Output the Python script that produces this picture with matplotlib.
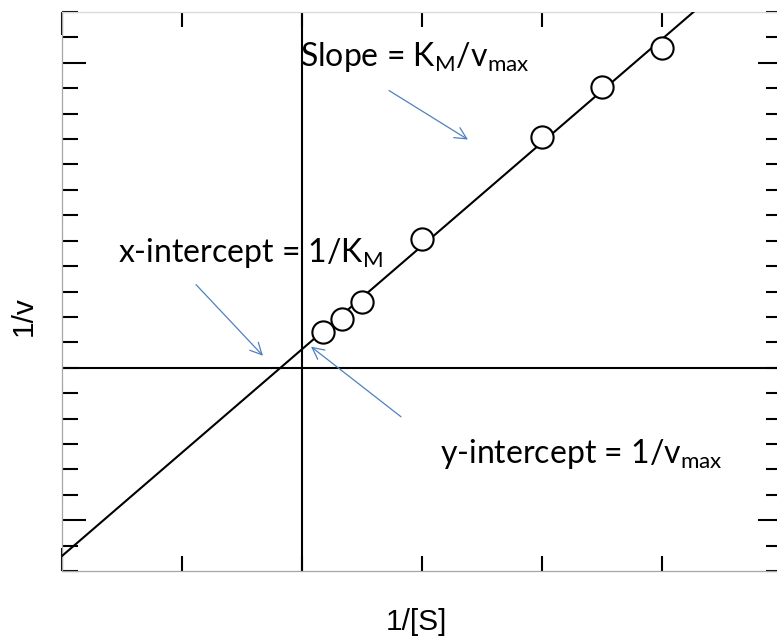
import matplotlib
matplotlib.use("Agg")
import matplotlib.pyplot as plt
from matplotlib.ticker import FixedLocator
import numpy as np

# Lineweaver-Burk data
inv_s = [0.175, 0.333, 0.5, 1.0, 2.0, 2.5, 3.0]
inv_v = [1.42, 1.93, 2.60, 5.08, 9.09, 11.06, 12.6]

x_lim = (-2, 4)
y_lim = (-8, 14)
x_long_ticks = [-2]
x_short_ticks = [-1, 0, 1, 2, 3, 4]
y_long_ticks = [-6, 12]
y_short_ticks = [v for v in range(-8, 15) if v not in (-6, 12)]

# annotation text and arrows: (label, text pos, arrow start, arrow end)
notes = [
    (r"Slope = $\mathregular{K_M/v_{max}}$", (-0.017, 11.86), (0.725, 10.91), (1.383, 8.98)),
    (r"x-intercept = 1/$\mathregular{K_M}$", (-1.533, 4.17), (-0.883, 3.27), (-0.325, 0.47)),
    (r"y-intercept = 1/$\mathregular{v_{max}}$", (1.15, -3.74), (0.825, -1.93), (0.075, 0.83)),
]

note_font = ["Lato", "DejaVu Sans"]
label_font = ["Liberation Sans Narrow", "Liberation Sans", "DejaVu Sans"]
arrow_color = "#4f81bd"

fig = plt.figure(figsize=(7.77, 6.39), dpi=100)
ax = fig.add_axes([62 / 777, 68 / 639, 720 / 777, 559 / 639])

# fitted line
slope, intercept = np.polyfit(inv_s, inv_v, 1)
xs = np.array(x_lim, dtype=float)
ax.plot(xs, slope * xs + intercept, color="black", lw=1.5, zorder=3)

ax.plot(inv_s, inv_v, "o", ms=16, mfc="white", mec="black", mew=1.5, zorder=4)

ax.axhline(0, color="black", lw=1.5, zorder=2)
ax.axvline(0, color="black", lw=1.5, zorder=2)

ax.set_xlim(*x_lim)
ax.set_ylim(*y_lim)

ax.xaxis.set_major_locator(FixedLocator(x_long_ticks))
ax.xaxis.set_minor_locator(FixedLocator(x_short_ticks))
ax.yaxis.set_major_locator(FixedLocator(y_long_ticks))
ax.yaxis.set_minor_locator(FixedLocator(y_short_ticks))
ax.tick_params(axis="both", which="both", direction="in", top=True, right=True,
               labelbottom=False, labelleft=False, width=1.5, color="black")
ax.tick_params(axis="x", which="major", length=16.6)
ax.tick_params(axis="x", which="minor", length=10.8)
ax.tick_params(axis="y", which="major", length=17.3)
ax.tick_params(axis="y", which="minor", length=11.5)

for side in ["left", "bottom"]:
    ax.spines[side].set_color("#a6a6a6")
    ax.spines[side].set_linewidth(0.9)
ax.spines["top"].set_color("#d9d9d9")
ax.spines["top"].set_linewidth(0.9)
ax.spines["right"].set_color("#a6a6a6")

for text, tpos, start, end in notes:
    ax.text(tpos[0], tpos[1], text, fontsize=23, family=note_font,
            ha="left", va="baseline", zorder=5)
    ax.annotate("", xy=end, xytext=start,
                arrowprops=dict(arrowstyle="->", color=arrow_color, lw=0.9,
                                mutation_scale=21, shrinkA=0, shrinkB=0))

fig.text(416 / 777, 1 - 622 / 639, "1/[S]", fontsize=21.5, family=label_font,
         ha="center", va="center")
fig.text(24 / 777, 1 - 316 / 639, "1/v", fontsize=21.5, family=label_font,
         ha="center", va="center", rotation=90)

fig.savefig("out.png", dpi=100)
